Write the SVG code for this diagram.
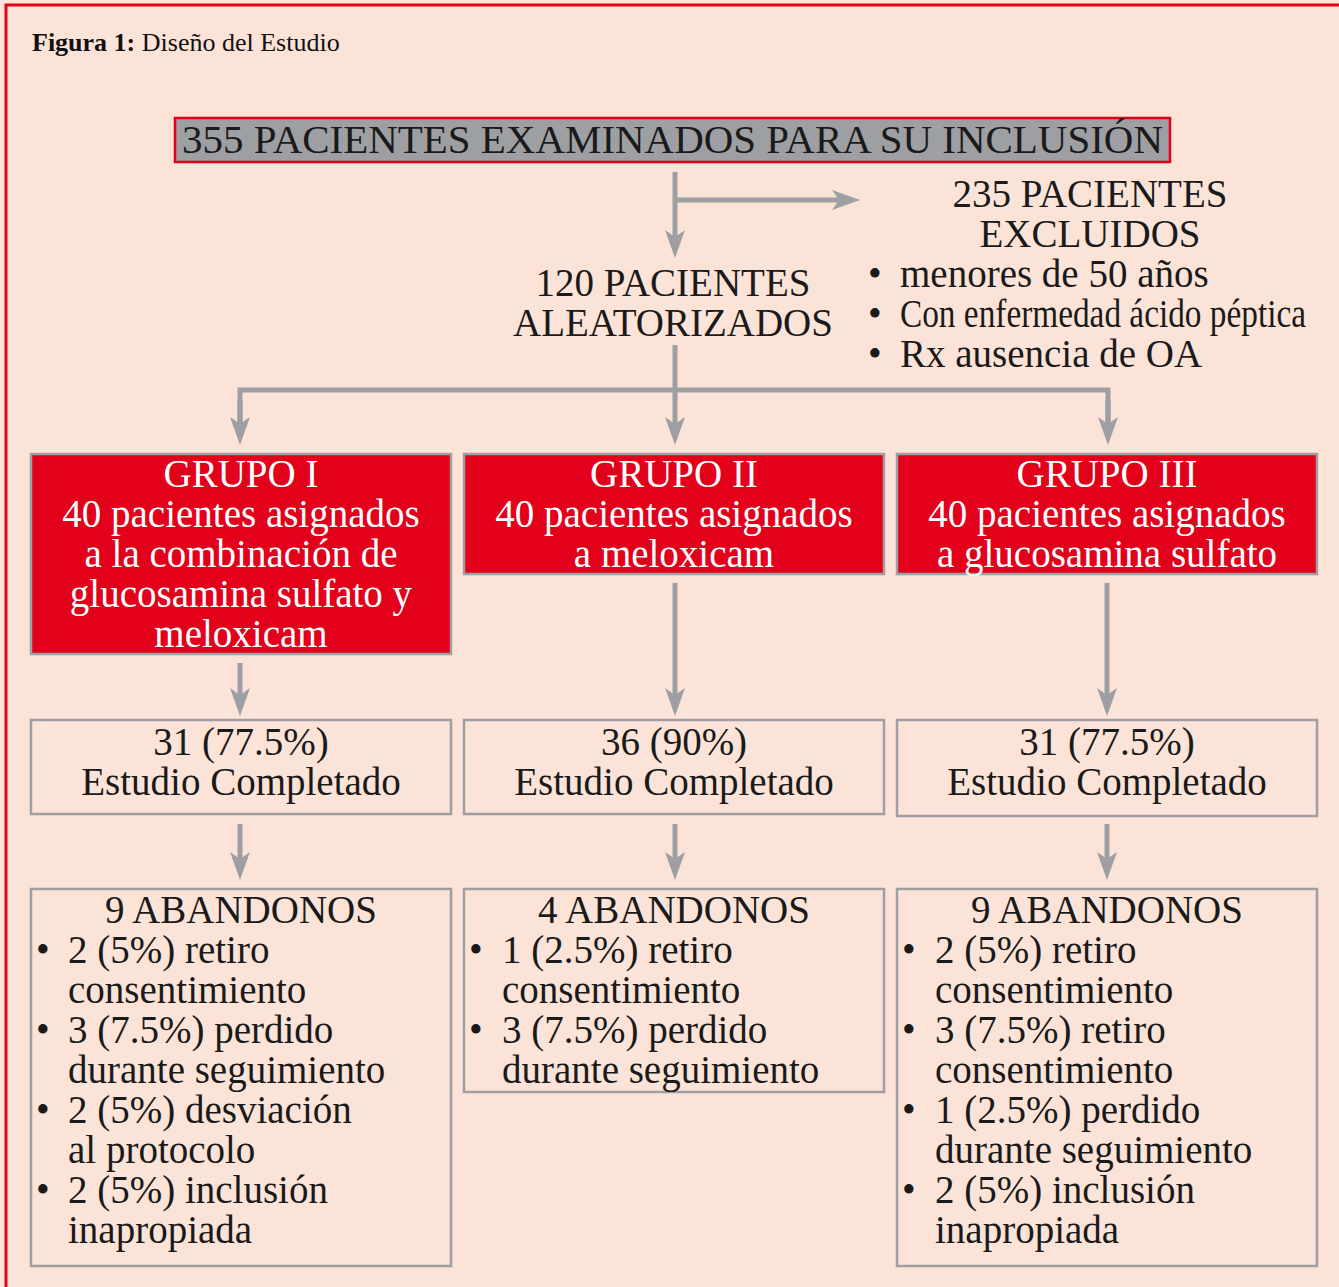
<svg xmlns="http://www.w3.org/2000/svg" width="1339" height="1287" viewBox="0 0 1339 1287" font-family="Liberation Serif, Times New Roman, serif">
<defs>
<style>
.t{font-size:39px;fill:#1a1a1a}
.w{fill:#ffffff;text-anchor:middle}
.c{text-anchor:middle}
.red{fill:#E2001A;stroke:#9D9FA2;stroke-width:2.5}
.box{fill:none;stroke:#9D9FA2;stroke-width:2.5}
.ln{fill:none;stroke:#9D9FA2;stroke-width:5}
</style>
<marker id="ah" viewBox="0 0 28 20" refX="8" refY="10" markerWidth="28" markerHeight="20" markerUnits="userSpaceOnUse" orient="auto">
<path d="M0,0 L28,10 L0,20 L7,10 Z" fill="#9D9FA2"/>
</marker>
</defs>
<rect x="0" y="0" width="1339" height="1287" fill="#FCE3D7"/>
<rect x="6" y="5" width="1340" height="1300" fill="none" stroke="#E2001A" stroke-width="3"/>
<text x="32" y="51" font-family="Liberation Serif, Times New Roman, serif" font-size="26" fill="#111"><tspan font-weight="bold">Figura 1:</tspan> Diseño del Estudio</text>

<g id="n-screened">
<rect x="175" y="118" width="995" height="44" fill="#9D9FA2" stroke="#E2001A" stroke-width="2.5"/>
<text class="t" x="182" y="153" textLength="981" lengthAdjust="spacingAndGlyphs">355 PACIENTES EXAMINADOS PARA SU INCLUSIÓN</text>
</g>

<g id="n-excluded">
<text class="t c" x="1090" y="207">235 PACIENTES</text>
<text class="t c" x="1090" y="247">EXCLUIDOS</text>
<text class="t" x="868" y="287">•</text><text class="t" x="900" y="287">menores de 50 años</text>
<text class="t" x="868" y="327">•</text><text class="t" x="900" y="327" textLength="406" lengthAdjust="spacingAndGlyphs">Con enfermedad ácido péptica</text>
<text class="t" x="868" y="367">•</text><text class="t" x="900" y="367">Rx ausencia de OA</text>
</g>

<g id="n-randomized">
<text class="t c" x="673" y="296">120 PACIENTES</text>
<text class="t c" x="673" y="336">ALEATORIZADOS</text>
</g>

<g id="n-g1">
<rect class="red" x="31" y="454" width="420" height="200"/>
<text class="t w" x="241" y="487">GRUPO I</text>
<text class="t w" x="241" y="527">40 pacientes asignados</text>
<text class="t w" x="241" y="567">a la combinación de</text>
<text class="t w" x="241" y="607">glucosamina sulfato y</text>
<text class="t w" x="241" y="647">meloxicam</text>
</g>
<g id="n-g2">
<rect class="red" x="464" y="454" width="420" height="120"/>
<text class="t w" x="674" y="487">GRUPO II</text>
<text class="t w" x="674" y="527">40 pacientes asignados</text>
<text class="t w" x="674" y="567">a meloxicam</text>
</g>
<g id="n-g3">
<rect class="red" x="897" y="454" width="420" height="120"/>
<text class="t w" x="1107" y="487">GRUPO III</text>
<text class="t w" x="1107" y="527">40 pacientes asignados</text>
<text class="t w" x="1107" y="567">a glucosamina sulfato</text>
</g>

<g id="n-c1">
<rect class="box" x="31" y="720" width="420" height="94"/>
<text class="t c" x="241" y="755">31 (77.5%)</text>
<text class="t c" x="241" y="795">Estudio Completado</text>
</g>
<g id="n-c2">
<rect class="box" x="464" y="720" width="420" height="94"/>
<text class="t c" x="674" y="755">36 (90%)</text>
<text class="t c" x="674" y="795">Estudio Completado</text>
</g>
<g id="n-c3">
<rect class="box" x="897" y="720" width="420" height="96"/>
<text class="t c" x="1107" y="755">31 (77.5%)</text>
<text class="t c" x="1107" y="795">Estudio Completado</text>
</g>

<g id="n-a1">
<rect class="box" x="31" y="889" width="420" height="377"/>
<text class="t c" x="241" y="923">9 ABANDONOS</text>
<text class="t" x="36" y="963">•</text><text class="t" x="68" y="963">2 (5%) retiro</text>
<text class="t" x="68" y="1003">consentimiento</text>
<text class="t" x="36" y="1043">•</text><text class="t" x="68" y="1043">3 (7.5%) perdido</text>
<text class="t" x="68" y="1083">durante seguimiento</text>
<text class="t" x="36" y="1123">•</text><text class="t" x="68" y="1123">2 (5%) desviación</text>
<text class="t" x="68" y="1163">al protocolo</text>
<text class="t" x="36" y="1203">•</text><text class="t" x="68" y="1203">2 (5%) inclusión</text>
<text class="t" x="68" y="1243">inapropiada</text>
</g>
<g id="n-a2">
<rect class="box" x="464" y="889" width="420" height="203"/>
<text class="t c" x="674" y="923">4 ABANDONOS</text>
<text class="t" x="469" y="963">•</text><text class="t" x="502" y="963">1 (2.5%) retiro</text>
<text class="t" x="502" y="1003">consentimiento</text>
<text class="t" x="469" y="1043">•</text><text class="t" x="502" y="1043">3 (7.5%) perdido</text>
<text class="t" x="502" y="1083">durante seguimiento</text>
</g>
<g id="n-a3">
<rect class="box" x="897" y="889" width="420" height="377"/>
<text class="t c" x="1107" y="923">9 ABANDONOS</text>
<text class="t" x="902" y="963">•</text><text class="t" x="935" y="963">2 (5%) retiro</text>
<text class="t" x="935" y="1003">consentimiento</text>
<text class="t" x="902" y="1043">•</text><text class="t" x="935" y="1043">3 (7.5%) retiro</text>
<text class="t" x="935" y="1083">consentimiento</text>
<text class="t" x="902" y="1123">•</text><text class="t" x="935" y="1123">1 (2.5%) perdido</text>
<text class="t" x="935" y="1163">durante seguimiento</text>
<text class="t" x="902" y="1203">•</text><text class="t" x="935" y="1203">2 (5%) inclusión</text>
<text class="t" x="935" y="1243">inapropiada</text>
</g>

<g id="connectors">
<path class="ln" d="M675,172 V238" marker-end="url(#ah)"/>
<path class="ln" d="M675,200 H840" marker-end="url(#ah)"/>
<path class="ln" d="M675,345 V425" marker-end="url(#ah)"/>
<path class="ln" d="M240,425 V390 H1108 V425" />
<path class="ln" d="M240,400 V425" marker-end="url(#ah)"/>
<path class="ln" d="M1108,400 V425" marker-end="url(#ah)"/>
<path class="ln" d="M240,663 V696" marker-end="url(#ah)"/>
<path class="ln" d="M675,583 V696" marker-end="url(#ah)"/>
<path class="ln" d="M1107,583 V696" marker-end="url(#ah)"/>
<path class="ln" d="M240,824 V860" marker-end="url(#ah)"/>
<path class="ln" d="M675,824 V860" marker-end="url(#ah)"/>
<path class="ln" d="M1107,824 V860" marker-end="url(#ah)"/>
</g>
</svg>
